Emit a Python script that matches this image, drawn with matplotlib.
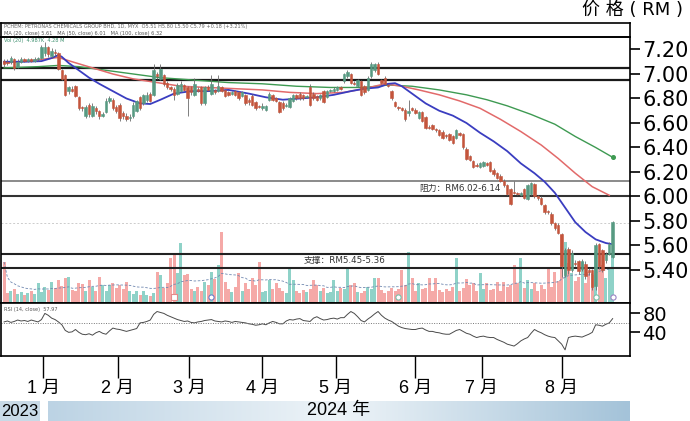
import numpy as np
import pandas as pd
import matplotlib
matplotlib.use('Agg')
import matplotlib.pyplot as plt
from matplotlib.colors import LinearSegmentedColormap

cjk = ['DejaVu Sans', 'Noto Sans CJK SC']
narrow = ['Liberation Sans', 'Noto Sans CJK SC']
plt.rcParams['font.family'] = cjk

# ---- daily candles (mid Dec 2023 -> late Aug 2024), prices in RM ----
open_ = [7.11, 7.10, 7.10, 7.12, 7.06, 7.10, 7.12, 7.11, 7.12, 7.11,
         7.12, 7.13, 7.17, 7.22, 7.15, 7.18, 7.17, 7.03, 6.99, 6.86,
         6.88, 6.90, 6.81, 6.73, 6.66, 6.75, 6.66, 6.72, 6.70, 6.66,
         6.69, 6.78, 6.79, 6.73, 6.75, 6.68, 6.66, 6.64, 6.66, 6.70,
         6.81, 6.76, 6.79, 6.84, 6.83, 7.00, 6.96, 6.99, 6.93, 6.89,
         6.88, 6.84, 6.86, 6.91, 6.89, 6.89, 6.83, 6.88, 6.89, 6.76,
         6.89, 6.84, 6.87, 6.86, 6.89, 6.87, 6.85, 6.84, 6.86, 6.85,
         6.82, 6.83, 6.79, 6.82, 6.77, 6.74, 6.72, 6.71, 6.79, 6.83,
         6.80, 6.77, 6.76, 6.74, 6.73, 6.78, 6.83, 6.84, 6.83, 6.81,
         6.89, 6.84, 6.82, 6.80, 6.86, 6.81, 6.86, 6.86, 6.87, 6.89,
         6.94, 6.98, 7.00, 6.93, 6.90, 6.94, 6.90, 6.87, 6.98, 7.03,
         7.08, 6.95, 6.97, 6.91, 6.86, 6.77, 6.73, 6.72, 6.71, 6.68,
         6.72, 6.71, 6.64, 6.69, 6.65, 6.57, 6.58, 6.55, 6.54, 6.53,
         6.50, 6.51, 6.49, 6.48, 6.52, 6.51, 6.39, 6.33, 6.29, 6.26,
         6.24, 6.25, 6.27, 6.28, 6.22, 6.19, 6.17, 6.13, 6.09, 6.06,
         6.04, 6.03, 6.01, 6.06, 5.98, 6.02, 6.10, 6.00, 5.99, 5.93,
         5.88, 5.86, 5.78, 5.77, 5.69, 5.36, 5.57, 5.40, 5.46, 5.47,
         5.41, 5.45, 5.40, 5.40, 5.27, 5.61, 5.56, 5.48, 5.53, 5.51]
close = [7.08, 7.09, 7.13, 7.05, 7.10, 7.12, 7.11, 7.12, 7.11, 7.12,
         7.13, 7.22, 7.22, 7.16, 7.19, 7.17, 7.04, 6.96, 6.83, 6.89,
         6.86, 6.82, 6.72, 6.72, 6.73, 6.67, 6.74, 6.70, 6.66, 6.67,
         6.78, 6.80, 6.72, 6.70, 6.64, 6.66, 6.63, 6.65, 6.75, 6.78,
         6.72, 6.83, 6.83, 6.78, 7.03, 6.98, 7.04, 6.92, 6.89, 6.88,
         6.83, 6.91, 6.92, 6.87, 6.80, 6.85, 6.92, 6.86, 6.76, 6.89,
         6.87, 6.92, 6.85, 6.90, 6.86, 6.82, 6.83, 6.85, 6.83, 6.80,
         6.85, 6.76, 6.77, 6.75, 6.72, 6.73, 6.74, 6.74, 6.84, 6.79,
         6.78, 6.69, 6.72, 6.75, 6.80, 6.83, 6.80, 6.80, 6.80, 6.82,
         6.75, 6.80, 6.79, 6.83, 6.77, 6.86, 6.87, 6.88, 6.89, 6.88,
         7.00, 7.02, 6.93, 6.92, 6.95, 6.83, 6.85, 6.97, 7.08, 7.08,
         7.00, 6.93, 6.92, 6.90, 6.80, 6.74, 6.72, 6.71, 6.63, 6.70,
         6.71, 6.68, 6.69, 6.62, 6.56, 6.56, 6.55, 6.54, 6.50, 6.48,
         6.49, 6.46, 6.44, 6.54, 6.50, 6.40, 6.31, 6.30, 6.24, 6.25,
         6.27, 6.28, 6.26, 6.21, 6.18, 6.15, 6.13, 6.09, 6.02, 5.94,
         6.03, 6.02, 6.03, 5.99, 6.09, 6.11, 6.00, 5.99, 5.94, 5.87,
         5.87, 5.78, 5.74, 5.70, 5.43, 5.56, 5.40, 5.54, 5.45, 5.39,
         5.47, 5.35, 5.38, 5.26, 5.60, 5.43, 5.40, 5.53, 5.61, 5.79]
high = [7.12, 7.12, 7.15, 7.13, 7.12, 7.14, 7.13, 7.13, 7.13, 7.14,
        7.14, 7.24, 7.26, 7.23, 7.21, 7.20, 7.18, 7.04, 7.00, 6.90,
        6.90, 6.91, 6.82, 6.74, 6.75, 6.76, 6.76, 6.74, 6.71, 6.69,
        6.80, 6.82, 6.80, 6.75, 6.76, 6.70, 6.68, 6.67, 6.77, 6.79,
        6.82, 6.84, 6.85, 6.85, 7.08, 7.02, 7.08, 7.00, 6.94, 6.90,
        6.89, 6.93, 6.94, 6.92, 6.90, 6.90, 6.97, 6.89, 6.90, 6.90,
        6.91, 6.99, 6.88, 6.99, 6.90, 6.88, 6.86, 6.86, 6.87, 6.86,
        6.86, 6.84, 6.80, 6.84, 6.78, 6.75, 6.76, 6.75, 6.85, 6.84,
        6.81, 6.78, 6.78, 6.76, 6.81, 6.84, 6.84, 6.85, 6.84, 6.83,
        6.92, 6.85, 6.83, 6.84, 6.87, 6.87, 6.88, 6.89, 6.90, 6.90,
        7.01, 7.03, 7.01, 6.94, 6.96, 6.95, 6.91, 6.98, 7.10, 7.09,
        7.10, 6.96, 6.98, 6.92, 6.87, 6.78, 6.74, 6.73, 6.72, 6.79,
        6.73, 6.72, 6.70, 6.70, 6.66, 6.58, 6.59, 6.56, 6.55, 6.54,
        6.51, 6.52, 6.50, 6.55, 6.53, 6.52, 6.40, 6.34, 6.30, 6.27,
        6.28, 6.29, 6.28, 6.29, 6.23, 6.20, 6.18, 6.14, 6.10, 6.07,
        6.13, 6.04, 6.04, 6.07, 6.10, 6.12, 6.11, 6.01, 6.00, 5.94,
        5.89, 5.87, 5.79, 5.78, 5.70, 5.58, 5.59, 5.56, 5.48, 5.48,
        5.49, 5.47, 5.42, 5.41, 5.62, 5.62, 5.57, 5.55, 5.63, 5.80]
low = [7.06, 7.07, 7.08, 7.03, 7.05, 7.09, 7.10, 7.10, 7.10, 7.10,
       7.11, 7.12, 7.15, 7.14, 7.13, 7.15, 7.03, 6.95, 6.82, 6.84,
       6.85, 6.81, 6.71, 6.70, 6.64, 6.65, 6.65, 6.67, 6.63, 6.65,
       6.68, 6.76, 6.71, 6.68, 6.62, 6.63, 6.62, 6.62, 6.64, 6.69,
       6.71, 6.75, 6.77, 6.77, 6.82, 6.96, 6.95, 6.90, 6.88, 6.86,
       6.79, 6.83, 6.85, 6.86, 6.66, 6.83, 6.82, 6.85, 6.75, 6.75,
       6.86, 6.83, 6.84, 6.85, 6.85, 6.81, 6.82, 6.83, 6.82, 6.79,
       6.81, 6.75, 6.75, 6.74, 6.71, 6.72, 6.71, 6.70, 6.78, 6.78,
       6.77, 6.68, 6.71, 6.73, 6.72, 6.77, 6.79, 6.79, 6.79, 6.80,
       6.74, 6.79, 6.78, 6.79, 6.76, 6.80, 6.85, 6.85, 6.86, 6.87,
       6.93, 6.97, 6.92, 6.91, 6.89, 6.82, 6.84, 6.86, 6.97, 7.02,
       6.99, 6.92, 6.91, 6.89, 6.79, 6.73, 6.71, 6.70, 6.62, 6.66,
       6.70, 6.67, 6.63, 6.61, 6.55, 6.55, 6.54, 6.53, 6.49, 6.47,
       6.48, 6.45, 6.43, 6.47, 6.49, 6.39, 6.30, 6.29, 6.23, 6.24,
       6.23, 6.24, 6.25, 6.20, 6.17, 6.14, 6.12, 6.08, 6.01, 5.93,
       6.02, 6.01, 6.00, 5.98, 5.97, 6.01, 5.99, 5.97, 5.93, 5.86,
       5.86, 5.77, 5.73, 5.69, 5.34, 5.34, 5.37, 5.38, 5.43, 5.37,
       5.39, 5.33, 5.36, 5.24, 5.24, 5.41, 5.38, 5.46, 5.52, 5.50]
volume = [41, 10, 12, 14, 9, 11, 8, 10, 12, 9, 20, 11,
          16, 13, 21, 15, 23, 17, 25, 26, 13, 12, 20, 19,
          12, 23, 16, 12, 26, 18, 12, 18, 20, 15, 18, 14,
          21, 12, 9, 12, 8, 12, 8, 7, 10, 31, 28, 15,
          20, 45, 50, 30, 60, 28, 29, 14, 12, 16, 12, 21,
          18, 31, 24, 38, 71, 21, 14, 11, 16, 30, 12, 20,
          14, 25, 18, 41, 11, 12, 23, 14, 20, 15, 12, 10,
          35, 23, 12, 10, 13, 11, 14, 23, 18, 12, 15, 10,
          11, 23, 12, 15, 14, 36, 18, 20, 11, 10, 12, 16,
          14, 25, 25, 13, 10, 12, 15, 12, 14, 33, 18, 51,
          25, 12, 20, 14, 15, 25, 12, 25, 13, 11, 14, 12,
          16, 45, 12, 15, 24, 18, 20, 12, 30, 14, 20, 13,
          14, 21, 12, 21, 16, 18, 38, 20, 45, 15, 23, 14,
          20, 12, 18, 14, 35, 16, 31, 22, 68, 61, 40, 30,
          22, 26, 41, 20, 31, 28, 51, 48, 38, 25, 35, 48]
rsi = [62, 64, 61, 63, 66, 64, 65, 63, 66, 64, 62, 67,
       80, 76, 70, 67, 62, 56, 44, 40, 41, 46, 40, 36,
       35, 37, 34, 39, 42, 38, 36, 43, 49, 47, 46, 44,
       42, 44, 46, 48, 60, 61, 63, 66, 78, 84, 82, 80,
       76, 73, 70, 67, 65, 63, 64, 61, 60, 62, 63, 65,
       66, 67, 64, 63, 62, 64, 63, 61, 63, 62, 61, 60,
       58, 57, 55, 56, 58, 56, 60, 63, 61, 58, 58, 64,
       67, 66, 68, 69, 65, 64, 63, 70, 73, 69, 66, 67,
       69, 70, 68, 71, 71, 78, 84, 80, 73, 65, 62, 68,
       73, 79, 84, 76, 70, 66, 63, 58, 53, 50, 48, 47,
       46, 46, 48, 49, 45, 42, 42, 40, 39, 37, 36, 36,
       40, 44, 46, 42, 38, 36, 32, 29, 31, 32, 30, 29,
       29, 25, 22, 19, 15, 13, 11, 16, 22, 26, 29, 38,
       46, 42, 39, 35, 32, 30, 29, 22, 15, 3, 29, 31,
       32, 31, 30, 33, 36, 40, 56, 55, 53, 57, 60, 69]

# moving averages (candle number, price)
ma_short_idx = [0, 6, 11, 14, 16, 17, 19, 22, 25, 28, 32, 36, 40, 43, 46, 50, 55, 60,
                66, 72, 77, 82, 87, 92, 97, 102, 106, 110, 113, 115, 117, 120, 124,
                128, 132, 136, 140, 144, 148, 152, 156, 159, 162, 165, 168, 171,
                174, 177, 179]
ma_short = [7.10, 7.10, 7.105, 7.13, 7.155, 7.14, 7.09, 7.03, 6.97, 6.92, 6.86, 6.80,
            6.76, 6.755, 6.79, 6.84, 6.86, 6.86, 6.87, 6.84, 6.81, 6.79, 6.80, 6.81,
            6.83, 6.86, 6.88, 6.89, 6.92, 6.925, 6.90, 6.84, 6.76, 6.70, 6.66, 6.60,
            6.52, 6.45, 6.37, 6.27, 6.19, 6.12, 6.03, 5.91, 5.79, 5.71, 5.65, 5.62, 5.61]
ma_mid_idx = [0, 8, 16, 20, 26, 32, 38, 45, 52, 60, 68, 76, 84, 92, 100, 106, 112,
              117, 122, 128, 134, 140, 146, 152, 158, 163, 168, 173, 178]
ma_mid = [7.09, 7.11, 7.135, 7.10, 7.05, 7.00, 6.96, 6.93, 6.90, 6.89, 6.88, 6.87,
          6.85, 6.84, 6.85, 6.88, 6.92, 6.90, 6.87, 6.83, 6.78, 6.72, 6.63, 6.53,
          6.42, 6.31, 6.19, 6.08, 6.01]
ma_long_idx = [0, 10, 16, 22, 30, 38, 46, 56, 66, 76, 86, 96, 106, 113, 120, 128,
               136, 142, 148, 155, 162, 168, 174, 179]
ma_long = [7.05, 7.06, 7.07, 7.06, 7.03, 7.00, 6.97, 6.95, 6.93, 6.92, 6.90, 6.89,
           6.89, 6.91, 6.90, 6.87, 6.83, 6.79, 6.74, 6.67, 6.59, 6.49, 6.40, 6.32]

# support / resistance levels
band_top = [7.05, 6.95]
resistance = [6.13, 6.00]
support = [5.53, 5.42]
faint_level = 5.78
resistance_text = '阻力：RM6.02-6.14'
support_text = '支撑：RM5.45-5.36'

# event markers under volume (candle number)
event_idx = [50, 61, 116, 174, 179]

month_pos = [11.5, 33.5, 54.5, 76, 97.5, 121, 140.5, 164]
month_labels = ['1 月', '2 月', '3 月', '4 月', '5 月', '6 月', '7 月', '8 月']
price_ticks = [5.40, 5.60, 5.80, 6.00, 6.20, 6.40, 6.60, 6.80, 7.00, 7.20]
rsi_ticks = [40, 80]

# ---------------------------------------------------------------
o = np.array(open_)
c = np.array(close)
hi = np.array(high)
lo = np.array(low)
x = np.arange(len(c))
up = c >= o

W, H = 690, 421


def box(x0, y0, x1, y1):
    return [x0 / W, 1 - y1 / H, (x1 - x0) / W, (y1 - y0) / H]


fig = plt.figure(figsize=(6.9, 4.21), dpi=100)

ax_head = fig.add_axes(box(1, 23, 630, 37))
ax_vol = fig.add_axes(box(1, 37, 630, 303))
ax = fig.add_axes(box(1, 37, 630, 303), sharex=ax_vol)
ax_rsi = fig.add_axes(box(1, 303, 630, 356), sharex=ax_vol)
ax.patch.set_visible(False)

ax_vol.set_xlim(-0.9, 184.1)

# volume
vcol = np.where(up, '#8fd2c8', '#f5a9a7')
ax_vol.bar(x, volume, width=0.85, color=vcol, linewidth=0)
vma = pd.Series(volume).rolling(20, min_periods=1).mean()
ax_vol.plot(x, vma, color='#7088b0', lw=0.6, ls=(0, (3, 2)))
ev_colors = ['#e48a8a', '#6c7cc6', '#78c0a8', '#78c0a8', '#9a84c4']
ev_markers = ['s', 'o', 'o', 'o', 'o']
for i, col, mk in zip(event_idx, ev_colors, ev_markers):
    ax_vol.scatter(i, 6, s=14, marker=mk, facecolor='white', edgecolor=col,
                   linewidth=0.8, zorder=3)
ax_vol.set_ylim(0, 266)
ax_vol.axis('off')

# levels
for v in band_top:
    ax.axhline(v, color='#1a1a1a', lw=1.6, zorder=1)
ax.axhline(resistance[0], color='#777777', lw=1.2, zorder=1)
ax.axhline(resistance[1], color='#333333', lw=1.5, zorder=1)
for v in support:
    ax.axhline(v, color='#222222', lw=1.5, zorder=1)
ax.axhline(faint_level, color='#cccccc', lw=0.7, ls=(0, (2, 2)), zorder=1)

# moving averages
ax.plot(ma_long_idx, ma_long, color='#3e9a52', lw=1.0, zorder=2)
ax.plot(ma_long_idx[-1], ma_long[-1], 'o', ms=2.6, color='#3e9a52', zorder=2)
ax.plot(ma_mid_idx, ma_mid, color='#e26a6a', lw=1.1, zorder=2)
ax.plot(ma_short_idx, ma_short, color='#3a3dc0', lw=1.3, zorder=2)

# candles
ccol = np.where(up, '#579a82', '#c4553c')
ax.vlines(x, lo, hi, colors='#6a6a6a', lw=0.6, zorder=3)
ax.bar(x, np.abs(c - o), bottom=np.minimum(o, c), width=0.72, color=ccol,
       edgecolor=ccol, linewidth=0.4, zorder=4)

ax.text(122, (resistance[0] + resistance[1]) / 2, resistance_text, fontsize=6.3,
        color='#333333', va='center', ha='left', zorder=5)
ax.text(88, (support[0] + support[1]) / 2, support_text, fontsize=6.3,
        color='#333333', va='center', ha='left', zorder=5)
ax.text(0.004, 0.995, 'Vol (20)  4.987K  4.28 M', transform=ax.transAxes,
        fontsize=3.6, color='#3c8f6e', va='top', ha='left')

ax.set_ylim(5.1306, 7.302)
ax.yaxis.tick_right()
ax.set_yticks(price_ticks)
ax.set_yticklabels(['%.2f' % v for v in price_ticks])
ax.tick_params(axis='y', length=7, width=1.2, labelsize=15, pad=2)
ax.tick_params(axis='x', bottom=False, labelbottom=False)
for s in ax.spines.values():
    s.set_linewidth(1.2)

# header strip
ax_head.set_xticks([])
ax_head.set_yticks([])
for s in ax_head.spines.values():
    s.set_linewidth(1.2)
ax_head.text(0.004, 0.72, 'PCHEM: PETRONAS CHEMICALS GROUP BHD, 1D, MYX  O5.51 H5.80 L5.50 C5.79 +0.18 (+3.21%)',
             transform=ax_head.transAxes, fontsize=3.6, color='#666666', va='center')
ax_head.text(0.004, 0.25, 'MA (20, close) 5.61   MA (50, close) 6.01   MA (100, close) 6.32',
             transform=ax_head.transAxes, fontsize=3.6, color='#555555', va='center')

# RSI
ax_rsi.plot(x, rsi, color='#4a4a4a', lw=0.7)
ax_rsi.axhline(60, color='#777777', lw=0.7, ls=(0, (1, 1.5)))
ax_rsi.set_ylim(-10, 102)
ax_rsi.yaxis.tick_right()
ax_rsi.set_yticks(rsi_ticks)
ax_rsi.tick_params(axis='y', length=7, width=1.2, labelsize=14, pad=2)
ax_rsi.set_xticks(month_pos)
ax_rsi.set_xticklabels(month_labels, family=narrow)
ax_rsi.tick_params(axis='x', length=16, width=1.0, labelsize=13, pad=1)
ax_rsi.text(0.004, 0.93, 'RSI (14, close)  57.97', transform=ax_rsi.transAxes,
            fontsize=3.6, color='#555555', va='top')
for s in ax_rsi.spines.values():
    s.set_linewidth(1.2)

# title
fig.text(632 / W, 1 - 10 / H, '价 格 ( RM )', ha='center', va='center', fontsize=13)

# year bands
ax_y0 = fig.add_axes(box(0, 401, 40, 421))
ax_y0.set_facecolor('#c8dae7')
ax_y0.set_xticks([])
ax_y0.set_yticks([])
for s in ax_y0.spines.values():
    s.set_visible(False)
ax_y0.text(0.5, 0.5, '2023', ha='center', va='center', fontsize=12,
           family=narrow, transform=ax_y0.transAxes)

ax_band = fig.add_axes(box(48, 401, 630, 421))
cmap = LinearSegmentedColormap.from_list('band', ['#bcd3e4', '#eef4f8', '#a4c3d9'])
ax_band.imshow(np.linspace(0, 1, 256)[None, :], cmap=cmap, aspect='auto',
               extent=[0, 1, 0, 1])
ax_band.axis('off')
ax_band.text(0.5, 0.5, '2024 年', ha='center', va='center', fontsize=13,
             family=narrow)

fig.savefig('out.png', dpi=100)
